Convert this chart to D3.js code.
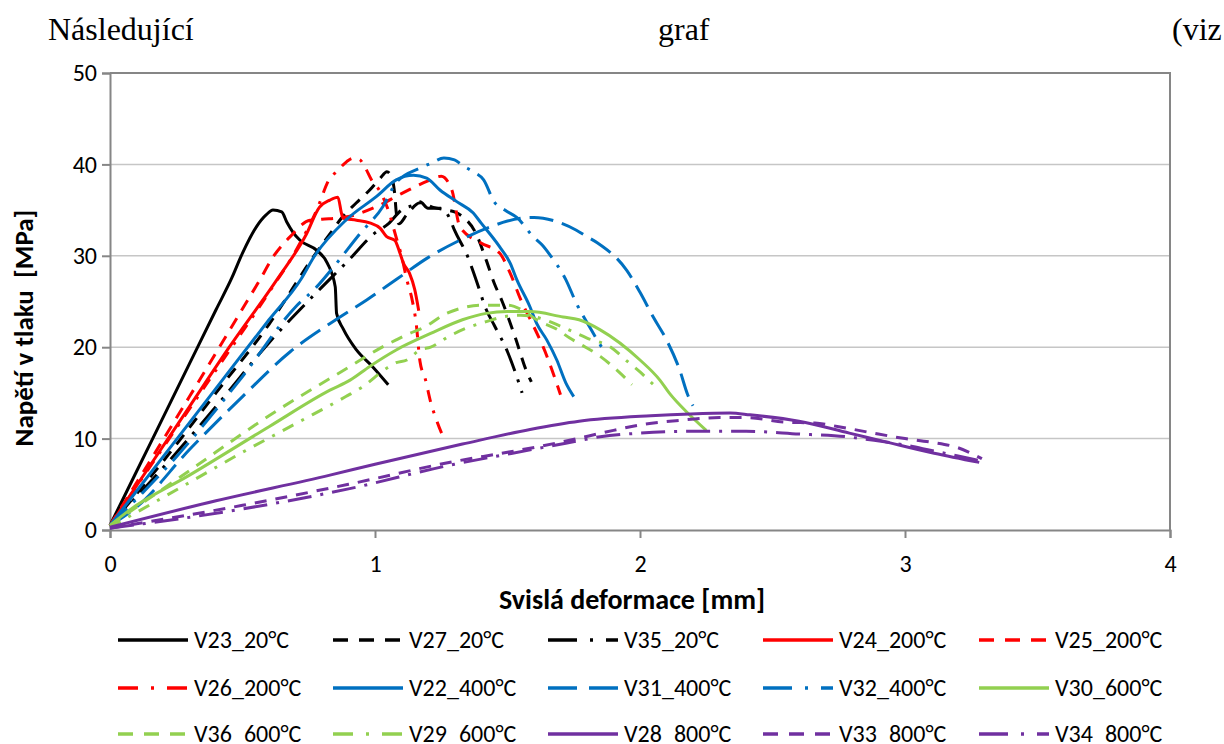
<!DOCTYPE html>
<html>
<head>
<meta charset="utf-8">
<script src="https://cdn.jsdelivr.net/npm/d3@7"></script>
<style>
  html, body { margin: 0; padding: 0; background: #fff; }
  svg { display: block; }
  .tick text { font-family: Carlito, Calibri, Lato, sans-serif; fill: #000; }
</style>
</head>
<body>
<svg id="chart" width="1224" height="744"></svg>
<script>
// Axis ticks
const xTicks = [0, 1, 2, 3, 4];
const yTicks = [0, 10, 20, 30, 40, 50];

// Stress–deformation measurements: [deformation mm, stress MPa]
const v23 = [[0,0.5],[0.1,6.4],[0.2,12.3],[0.3,18.2],[0.4,24.1],[0.46,27.6],[0.5,30.3],[0.553,33.2],[0.59,34.5],[0.615,35.0],[0.648,34.8],[0.667,33.7],[0.69,32.6],[0.717,31.7],[0.78,30.6],[0.82,29.2],[0.85,26.6],[0.855,23.7],[0.88,22.0],[0.93,19.7],[0.99,17.9],[1.05,15.9]];
const v27 = [[0,0.5],[0.2,7.5],[0.4,15.0],[0.6,22.5],[0.77,30.0],[0.84,32.8],[0.87,34.0],[0.93,35.8],[0.98,37.2],[1.02,38.5],[1.045,39.2],[1.06,38.8],[1.075,36.6],[1.08,34.8],[1.09,33.5],[1.12,34.5],[1.17,35.8],[1.22,35.3],[1.27,35.0],[1.30,34.8],[1.33,34.3],[1.38,32.5],[1.42,29.5],[1.45,27.0],[1.48,25.0],[1.53,21.0],[1.57,17.5],[1.59,16.2]];
const v35 = [[0,0.5],[0.2,6.8],[0.4,13.5],[0.6,20.5],[0.78,26.0],[0.9,29.5],[1.0,32.5],[1.05,33.5],[1.1,35.0],[1.15,35.6],[1.17,35.9],[1.2,35.2],[1.25,35.2],[1.28,34.2],[1.30,32.8],[1.35,29.9],[1.38,27.5],[1.42,24.1],[1.45,22.4],[1.5,19.5],[1.53,17.2],[1.555,15.0]];
const v24 = [[0,0.5],[0.15,7.0],[0.3,13.5],[0.45,20.0],[0.63,27.4],[0.74,32.3],[0.79,35.3],[0.83,36.1],[0.86,36.4],[0.874,34.6],[0.88,34.1],[0.93,33.9],[0.98,33.6],[1.02,33.0],[1.044,32.1],[1.075,31.7],[1.094,30.3],[1.107,29.2],[1.13,28.1],[1.15,26.3],[1.165,24.0]];
const v25 = [[0,0.5],[0.15,7.5],[0.3,14.6],[0.45,21.8],[0.566,27.4],[0.616,29.9],[0.68,32.1],[0.755,33.9],[0.8,34.0],[0.9,34.3],[1.0,35.3],[1.1,36.8],[1.2,38.2],[1.25,38.7],[1.29,37.2],[1.32,33.2],[1.4,31.4],[1.47,30.3],[1.51,28.1],[1.55,25.2],[1.6,22.2],[1.635,20.0],[1.70,14.8]];
const v26 = [[0,0.5],[0.2,9.0],[0.4,17.5],[0.6,26.0],[0.7,30.5],[0.78,35.0],[0.83,38.5],[0.855,39.2],[0.893,40.3],[0.92,40.7],[0.943,40.5],[0.962,39.7],[0.987,38.3],[1.02,37.0],[1.05,35.0],[1.08,32.0],[1.1,30.0],[1.12,27.4],[1.14,25.2],[1.155,22.7],[1.17,18.4],[1.19,16.5],[1.21,14.0],[1.235,11.8],[1.257,10.2]];
const v22 = [[0,0.5],[0.2,8.0],[0.4,15.5],[0.6,23.0],[0.72,27.4],[0.77,29.9],[0.89,33.9],[1.006,36.5],[1.08,38.3],[1.145,38.8],[1.195,38.5],[1.245,37.2],[1.31,35.9],[1.37,34.7],[1.40,33.6],[1.47,31.0],[1.51,29.2],[1.535,27.4],[1.585,24.4],[1.61,22.6],[1.648,20.8],[1.686,18.6],[1.72,16.1],[1.75,14.6]];
const v31 = [[0,0.5],[0.1,2.5],[0.3,8.8],[0.5,14.6],[0.68,19.5],[0.868,23.3],[0.97,25.2],[1.08,27.4],[1.2,29.8],[1.32,31.7],[1.43,33.1],[1.5,33.8],[1.55,34.1],[1.6,34.2],[1.69,33.7],[1.76,32.8],[1.80,32.1],[1.84,31.4],[1.95,28.4],[2.0,26.0],[2.05,23.3],[2.1,20.8],[2.15,17.5],[2.18,14.8],[2.2,13.6]];
const v32 = [[0,0.5],[0.25,8.0],[0.5,16.8],[0.70,24.4],[0.78,26.6],[0.85,29.0],[0.94,32.3],[1.03,35.4],[1.08,38.0],[1.17,39.6],[1.21,40.1],[1.26,40.7],[1.30,40.5],[1.33,39.9],[1.37,39.2],[1.41,38.3],[1.45,35.9],[1.49,35.0],[1.535,34.2],[1.60,32.0],[1.63,31.2],[1.66,30.1],[1.72,27.4],[1.76,24.8],[1.81,22.2],[1.87,19.3]];
const v30 = [[0,0.5],[0.075,2.2],[0.3,6.0],[0.6,11.3],[0.83,15.3],[0.906,16.4],[0.98,17.9],[1.08,19.7],[1.21,21.5],[1.33,23.0],[1.42,23.7],[1.5,23.9],[1.585,23.9],[1.71,23.3],[1.77,23.0],[1.85,21.9],[2.0,18.6],[2.075,16.4],[2.11,15.0],[2.18,12.8],[2.25,10.9]];
const v36 = [[0,0.5],[0.3,6.5],[0.6,12.5],[0.906,17.9],[1.02,19.9],[1.08,20.8],[1.13,21.5],[1.18,22.1],[1.27,23.7],[1.33,24.3],[1.4,24.6],[1.5,24.6],[1.56,24.0],[1.61,23.0],[1.69,21.9],[1.735,21.0],[1.77,20.4],[1.85,19.0],[1.92,17.3],[1.97,15.9]];
const v29 = [[0,0.3],[0.3,5.2],[0.5,8.5],[0.705,11.7],[0.89,14.6],[0.955,15.7],[1.044,17.7],[1.08,18.3],[1.12,18.6],[1.17,19.7],[1.21,20.0],[1.28,21.2],[1.346,22.1],[1.42,22.8],[1.48,23.3],[1.55,23.5],[1.62,23.2],[1.7,22.3],[1.8,21.0],[1.89,20.0],[1.95,18.5],[2.0,17.3],[2.04,16.2],[2.07,15.4]];
const v28 = [[0,0.3],[0.4,3.2],[0.83,6.0],[1.0,7.2],[1.33,9.4],[1.585,11.0],[1.77,11.9],[2.04,12.5],[2.19,12.7],[2.34,12.8],[2.415,12.6],[2.6,11.9],[2.79,10.6],[2.92,9.7],[3.11,8.4],[3.28,7.4]];
const v33 = [[0,0.2],[0.5,2.7],[0.9,5.0],[1.3,7.5],[1.5,8.5],[1.7,9.6],[1.9,10.9],[2.0,11.5],[2.15,12.0],[2.3,12.3],[2.4,12.3],[2.55,11.8],[2.66,11.7],[2.75,11.3],[2.88,10.6],[3.0,10.0],[3.1,9.6],[3.2,9.0],[3.29,7.8]];
const v34 = [[0,0.2],[0.5,2.3],[0.9,4.5],[1.3,7.2],[1.5,8.3],[1.72,9.5],[1.85,10.2],[2.0,10.6],[2.2,10.8],[2.4,10.8],[2.6,10.5],[2.78,10.2],[2.86,9.9],[3.0,9.3],[3.1,8.7],[3.2,8.1],[3.28,7.6]];

const seriesNames = ["V23_20°C","V27_20°C","V35_20°C","V24_200°C","V25_200°C","V26_200°C","V22_400°C","V31_400°C","V32_400°C","V30_600°C","V36_600°C","V29_600°C","V28_800°C","V33_800°C","V34_800°C"];
const seriesData = [v23, v27, v35, v24, v25, v26, v22, v31, v32, v30, v36, v29, v28, v33, v34];

// Styling per series
const colours = ["#000000","#000000","#000000","#FF0000","#FF0000","#FF0000","#0070C0","#0070C0","#0070C0","#92D050","#92D050","#92D050","#7030A0","#7030A0","#7030A0"];
const dashKinds = ["solid","dash","longDashDot","solid","dash","dashDot","solid","longDash","longDashDot","solid","dash","dashDot","solid","dash","longDashDot"];
const plotDash = { solid: null, dash: "12,9", longDash: "24,9", dashDot: "12,9,3,9", longDashDot: "24,9,3,9" };
const keyDash  = { solid: null, dash: "15,11", longDash: "29,12", dashDot: "20,13,3,13", longDashDot: "29,13,3,13" };

const svg = d3.select("#chart");
const fontUI = "Carlito, Calibri, Lato, sans-serif";

// Running text line above the chart
const para = svg.append("g").attr("font-family", "'Liberation Serif', 'Times New Roman', serif")
  .attr("font-size", 32).attr("fill", "#000");
para.append("text").attr("x", 48).attr("y", 40).text("Následující");
para.append("text").attr("x", 658).attr("y", 40).text("graf");
para.append("text").attr("x", 1172).attr("y", 40).text("(viz");

const x = d3.scaleLinear().domain([0, 4]).range([110, 1170]);
const y = d3.scaleLinear().domain([0, 50]).range([530, 73]);

// Horizontal gridlines
svg.append("g").selectAll("line")
  .data(yTicks.filter(d => d > 0 && d < 50))
  .join("line")
  .attr("x1", x(0)).attr("x2", x(4))
  .attr("y1", d => y(d)).attr("y2", d => y(d))
  .attr("stroke", "#c6c6c6").attr("stroke-width", 1.5);

// Plot frame: top and right edges
svg.append("path")
  .attr("d", `M${x(0)},${y(50)}H${x(4)}V${y(0)}`)
  .attr("fill", "none").attr("stroke", "#868686").attr("stroke-width", 2);

// Axes
const xAxis = svg.append("g").attr("transform", `translate(0,${y(0)})`)
  .call(d3.axisBottom(x).tickValues(xTicks).tickFormat(d3.format("d")).tickSize(8).tickPadding(17));
const yAxis = svg.append("g").attr("transform", `translate(${x(0)},0)`)
  .call(d3.axisLeft(y).tickValues(yTicks).tickFormat(d3.format("d")).tickSize(8).tickPadding(5));
[xAxis, yAxis].forEach(a => {
  a.select(".domain").attr("stroke", "#868686").attr("stroke-width", 2);
  a.selectAll(".tick line").attr("stroke", "#868686").attr("stroke-width", 2);
  a.selectAll(".tick text").attr("font-size", 24).attr("font-family", fontUI);
});

// Axis titles
svg.append("text").attr("x", 632).attr("y", 609)
  .attr("text-anchor", "middle").attr("font-family", fontUI).attr("font-weight", "bold")
  .attr("font-size", 28).text("Svislá deformace [mm]");
svg.append("text").attr("transform", "translate(33,328) rotate(-90)")
  .attr("text-anchor", "middle").attr("font-family", fontUI).attr("font-weight", "bold")
  .attr("font-size", 27).attr("xml:space", "preserve").text("Napětí v tlaku  [MPa]");

// Curves
const line = d3.line().x(d => x(d[0])).y(d => y(d[1])).curve(d3.curveMonotoneX);
svg.append("g").selectAll("path")
  .data(seriesData)
  .join("path")
  .attr("d", d => line(d))
  .attr("fill", "none")
  .attr("stroke", (d, i) => colours[i])
  .attr("stroke-width", 3)
  .attr("stroke-linejoin", "round")
  .attr("stroke-dasharray", (d, i) => plotDash[dashKinds[i]]);

// Legend: 3 rows x 5 columns
const colX = [118, 333, 548, 763, 979];
const rowY = [640, 688, 734];
const key = svg.append("g");
seriesNames.forEach((name, i) => {
  const cx = colX[i % 5], cy = rowY[Math.floor(i / 5)];
  key.append("line")
    .attr("x1", cx).attr("x2", cx + 70).attr("y1", cy).attr("y2", cy)
    .attr("stroke", colours[i]).attr("stroke-width", 3.5)
    .attr("stroke-dasharray", keyDash[dashKinds[i]]);
  key.append("text")
    .attr("x", cx + 76).attr("y", cy).attr("dy", "0.35em")
    .attr("font-family", fontUI).attr("font-size", 24)
    .text(name);
});
</script>
</body>
</html>
